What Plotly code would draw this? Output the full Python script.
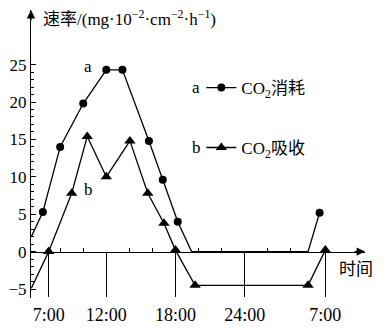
import plotly.graph_objects as go

# Hour of day (continuing past midnight: 24 = 0:00, 31 = 7:00 next day)
hours_a = [5.5, 6.5, 8, 10, 12, 13.4, 15.7, 16.9, 18.2, 19.4, 29.5, 30.5]
co2_consumed = [2.0, 5.3, 14.0, 19.8, 24.3, 24.3, 14.8, 9.6, 4.0, 0, 0, 5.2]
marked_a = [1, 2, 3, 4, 5, 6, 7, 8, 11]

hours_b = [5.5, 7, 9, 10.35, 12, 14.05, 15.6, 17, 18, 19.7, 29.5, 31]
co2_absorbed = [-4.9, 0, 7.8, 15.4, 10.0, 14.8, 7.8, 3.8, 0.2, -4.5, -4.5, 0.2]
marked_b = [1, 2, 3, 4, 5, 6, 7, 8, 9, 10, 11]

tick_hours = [7, 12, 18, 24, 31]
tick_labels = ["7:00", "12:00", "18:00", "24:00", "7:00"]
minor_hours = [8, 10, 14, 16, 20, 22, 26, 28]
y_ticks = [-5, 0, 5, 10, 15, 20, 25]
y_minor = [v for v in range(-4, 25) if v % 5 != 0]

SERIF = "Liberation Serif, Noto Sans CJK SC, serif"
X_RANGE = [5.47, 34.44]
Y_RANGE = [-6.2, 32.3]

fig = go.Figure()

fig.add_trace(go.Scatter(
    x=hours_a, y=co2_consumed, mode="lines+markers",
    name="CO<sub>2</sub>消耗", legend="legend",
    line=dict(color="black", width=1.3),
    marker=dict(symbol="circle", size=8, color="black"),
    selectedpoints=marked_a,
    selected=dict(marker=dict(opacity=1)),
    unselected=dict(marker=dict(opacity=0)),
    cliponaxis=False,
))
fig.add_trace(go.Scatter(
    x=hours_b, y=co2_absorbed, mode="lines+markers",
    name="CO<sub>2</sub>吸收", legend="legend2",
    line=dict(color="black", width=1.3),
    marker=dict(symbol="triangle-up", size=10, color="black"),
    selectedpoints=marked_b,
    selected=dict(marker=dict(opacity=1)),
    unselected=dict(marker=dict(opacity=0)),
    cliponaxis=False,
))

zero_pos = (0 - Y_RANGE[0]) / (Y_RANGE[1] - Y_RANGE[0])

fig.update_layout(
    width=386, height=332,
    margin=dict(l=31, r=21, t=10, b=34),
    paper_bgcolor="white", plot_bgcolor="white",
    font=dict(family=SERIF, size=17, color="black"),
    xaxis=dict(
        range=X_RANGE, anchor="free", position=zero_pos, automargin=False,
        showline=True, linecolor="black", linewidth=1.2,
        showgrid=False, zeroline=False,
        tickmode="array", tickvals=tick_hours, ticktext=tick_labels,
        ticks="outside", ticklen=44, tickwidth=1.2, tickcolor="black",
        ticklabelstandoff=3,
        tickfont=dict(family=SERIF, size=18),
        minor=dict(tickmode="array", tickvals=minor_hours, ticks="inside",
                   ticklen=4, tickwidth=1.2, tickcolor="black", showgrid=False),
    ),
    yaxis=dict(
        range=Y_RANGE, automargin=False,
        showline=True, linecolor="black", linewidth=1.2,
        showgrid=False, zeroline=False,
        tickmode="array", tickvals=y_ticks,
        ticks="inside", ticklen=5, tickwidth=1.2, tickcolor="black",
        tickfont=dict(family=SERIF, size=17),
        minor=dict(tickmode="array", tickvals=y_minor, ticks="inside",
                   ticklen=3, tickwidth=1.2, tickcolor="black", showgrid=False),
    ),
    legend=dict(x=0.51, y=0.729, xanchor="left", yanchor="middle",
                bgcolor="rgba(0,0,0,0)", font=dict(family=SERIF, size=17)),
    legend2=dict(x=0.51, y=0.521, xanchor="left", yanchor="middle",
                 bgcolor="rgba(0,0,0,0)", font=dict(family=SERIF, size=17)),
    showlegend=True,
)

# Axis arrows
fig.add_annotation(x=X_RANGE[1], y=0, xref="x", yref="y", ax=-12, ay=0,
                   text="", showarrow=True, arrowhead=2, arrowsize=1.4,
                   arrowwidth=1.2, arrowcolor="black")
fig.add_annotation(x=X_RANGE[0], y=Y_RANGE[1], xref="x", yref="y", ax=0, ay=12,
                   text="", showarrow=True, arrowhead=2, arrowsize=1.4,
                   arrowwidth=1.2, arrowcolor="black")

# Axis titles
fig.add_annotation(x=6.34, y=31.2, xref="x", yref="y", xanchor="left",
                   yanchor="middle", showarrow=False,
                   text="速率/(mg·10<sup>−2</sup>·cm<sup>−2</sup>·h<sup>−1</sup>)",
                   font=dict(family=SERIF, size=17))
fig.add_annotation(x=33.7, y=-2.45, xref="x", yref="y", showarrow=False,
                   text="时间", font=dict(family=SERIF, size=17))

# Curve labels
fig.add_annotation(x=10.41, y=24.8, xref="x", yref="y", showarrow=False,
                   text="a", font=dict(family=SERIF, size=17))
fig.add_annotation(x=10.5, y=8.25, xref="x", yref="y", showarrow=False,
                   text="b", font=dict(family=SERIF, size=17))
fig.add_annotation(x=19.8, y=21.9, xref="x", yref="y", showarrow=False,
                   text="a", font=dict(family=SERIF, size=17))
fig.add_annotation(x=19.8, y=13.9, xref="x", yref="y", showarrow=False,
                   text="b", font=dict(family=SERIF, size=17))

fig.write_html("out.html")
